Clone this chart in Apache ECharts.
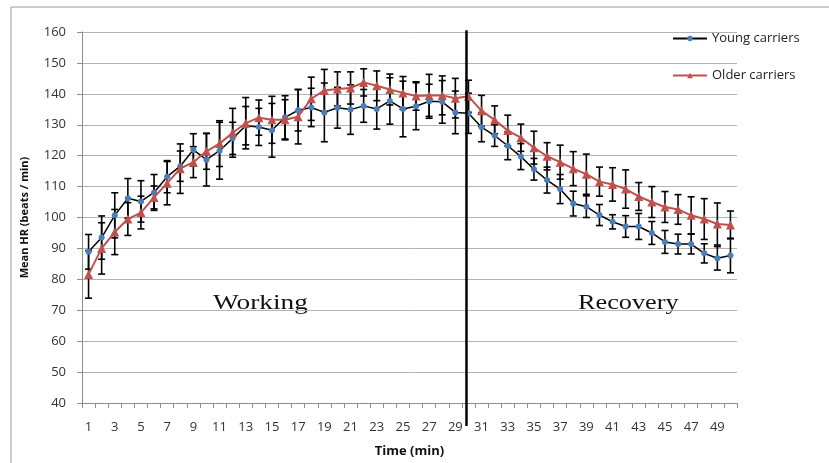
<!DOCTYPE html>
<html>
<head>
<meta charset="utf-8">
<script src="https://cdn.jsdelivr.net/npm/echarts@6/dist/echarts.min.js"></script>
<style>html,body{margin:0;padding:0;background:#fff;}#c{width:829px;height:463px;}</style>
</head>
<body>
<div id="c"></div>
<script>
const categories = ['1','2','3','4','5','6','7','8','9','10','11','12','13','14','15','16','17','18','19','20','21','22','23','24','25','26','27','28','29','30','31','32','33','34','35','36','37','38','39','40','41','42','43','44','45','46','47','48','49','50'];
const youngMean = [88.9,93.5,100.7,106.2,105.2,108.1,113.2,116.6,121.9,118.7,121.6,125.6,129.7,129.3,128.2,132.4,134.7,135.6,134.0,135.5,134.9,136.1,135.1,137.7,135.1,136.0,137.6,137.4,134.0,133.7,129.2,126.5,123.2,119.7,115.6,112.1,109.2,104.5,103.5,100.8,98.6,97.1,97.1,95.0,92.1,91.4,91.4,88.4,86.8,87.7];
const youngErr = [5.6,7,7.3,6.4,6.7,5.8,5.2,4.9,5.2,8.5,9.2,5.2,6.2,6,8.7,7,6.7,6.2,9.5,6.6,8,5.3,6.5,7.5,9,7.6,5.5,6.9,6.9,6.5,4.7,3.5,4.5,4.2,3.5,4.2,4.7,4,3.5,3.4,2.3,3.5,4.2,3.7,3.7,3.2,3.2,3.1,3.8,5.6];
const olderMean = [81.6,90.0,95.3,99.5,101.6,106.5,111.1,115.8,117.9,121.4,123.9,127.4,130.5,132.3,131.6,131.6,132.6,138.4,141.1,141.6,141.9,143.7,142.6,141.4,140.3,139.3,139.5,139.5,138.6,139.2,134.5,131.6,128.1,125.8,122.6,119.8,117.9,115.8,114.0,111.6,110.7,109.2,106.8,105.0,103.4,102.6,100.7,99.5,97.9,97.6];
const olderErr = [7.7,8.3,7.3,5.3,5.3,3.7,7,8,5,5.8,7.4,7.9,8.3,5.7,7.6,6.5,8.8,7,6.8,5.5,5.2,4.4,4.8,5,5.3,4.6,6.8,6.3,6.4,5.2,5,4.5,5,4.4,5.3,4.4,5.5,5.5,6.5,4.7,5.4,6.2,4.5,5,5,4.8,6,6.6,6.8,4.5];
const phaseBoundary = 29.85;
const yTicks = {min: 40, max: 160, interval: 10};

const font = 'Open Sans';
function errData(mean, err) {
  return mean.map((m, i) => [i, +(m - err[i]).toFixed(2), +(m + err[i]).toFixed(2)]);
}
function renderErr(params, api) {
  const x = api.value(0);
  const lo = api.coord([x, api.value(1)]);
  const hi = api.coord([x, api.value(2)]);
  const w = 3.5;
  const st = {stroke: '#000', lineWidth: 1.6};
  return {type: 'group', children: [
    {type: 'line', shape: {x1: hi[0], y1: hi[1], x2: lo[0], y2: lo[1]}, style: st},
    {type: 'line', shape: {x1: hi[0] - w, y1: hi[1], x2: hi[0] + w, y2: hi[1]}, style: st},
    {type: 'line', shape: {x1: lo[0] - w, y1: lo[1], x2: lo[0] + w, y2: lo[1]}, style: st}
  ]};
}

const chart = echarts.init(document.getElementById('c'), null, {renderer: 'canvas'});
chart.setOption({
  animation: false,
  backgroundColor: '#fff',
  textStyle: {fontFamily: font},
  grid: {left: 82, right: 92, top: 32, bottom: 51, containLabel: false},
  legend: {
    orient: 'vertical', left: 667, top: 27, itemWidth: 34, itemHeight: 7, itemGap: 24,
    textStyle: {fontFamily: font, fontSize: 13, color: '#222'},
    data: ['Young carriers', 'Older carriers']
  },
  xAxis: [{
    type: 'category', data: categories, boundaryGap: true,
    name: 'Time (min)', nameLocation: 'middle', nameGap: 42,
    nameTextStyle: {fontFamily: font, fontSize: 13, fontWeight: 'bold', color: '#111'},
    axisLine: {lineStyle: {color: '#8c8c8c', width: 1}},
    axisTick: {show: true, interval: 0, length: 5, lineStyle: {color: '#8c8c8c'}},
    axisLabel: {interval: 1, margin: 18, fontSize: 13, color: '#333', fontFamily: font},
    splitLine: {show: false}
  }, {
    type: 'value', min: 0.5, max: 50.5, show: false
  }],
  yAxis: {
    type: 'value', min: yTicks.min, max: yTicks.max, interval: yTicks.interval,
    name: 'Mean HR (beats / min)', nameLocation: 'middle', nameGap: 52,
    nameTextStyle: {fontFamily: font, fontSize: 11, fontWeight: 'bold', color: '#111'},
    axisLine: {show: true, lineStyle: {color: '#8c8c8c', width: 1}},
    axisTick: {show: true, length: 5, lineStyle: {color: '#8c8c8c'}},
    axisLabel: {margin: 16, fontSize: 13, color: '#333', fontFamily: font},
    splitLine: {lineStyle: {color: '#b4b4b4', width: 1}}
  },
  series: [
    {type: 'custom', name: 'errY', renderItem: renderErr, data: errData(youngMean, youngErr), encode: {x: 0, y: [1, 2]}, z: 1, silent: true},
    {type: 'custom', name: 'errO', renderItem: renderErr, data: errData(olderMean, olderErr), encode: {x: 0, y: [1, 2]}, z: 1, silent: true},
    {type: 'line', name: 'Young carriers', data: youngMean, z: 3,
      lineStyle: {color: '#000', width: 1.5}, itemStyle: {color: '#4a7ebb'},
      symbol: 'circle', symbolSize: 6, showAllSymbol: true},
    {type: 'line', name: 'Older carriers', data: olderMean, z: 4,
      lineStyle: {color: '#c0504d', width: 2}, itemStyle: {color: '#c0504d'},
      symbol: 'triangle', symbolSize: 9, showAllSymbol: true},
    {type: 'line', name: 'boundary', xAxisIndex: 1, data: [[phaseBoundary, 160.6], [phaseBoundary, 32.6]],
      symbol: 'none', clip: false, lineStyle: {color: '#000', width: 2.5}, z: 5, silent: true}
  ],
  graphic: [
    {type: 'rect', shape: {x: 11, y: 7, width: 840, height: 480}, style: {fill: 'none', stroke: '#9a9a9a', lineWidth: 1}, silent: true},
    {type: 'text', x: 213, y: 293, scaleX: 1.3, style: {text: 'Working', font: '21px "Liberation Serif"', fill: '#111'}},
    {type: 'text', x: 578, y: 293, scaleX: 1.25, style: {text: 'Recovery', font: '21px "Liberation Serif"', fill: '#111'}}
  ]
});
</script>
</body>
</html>
